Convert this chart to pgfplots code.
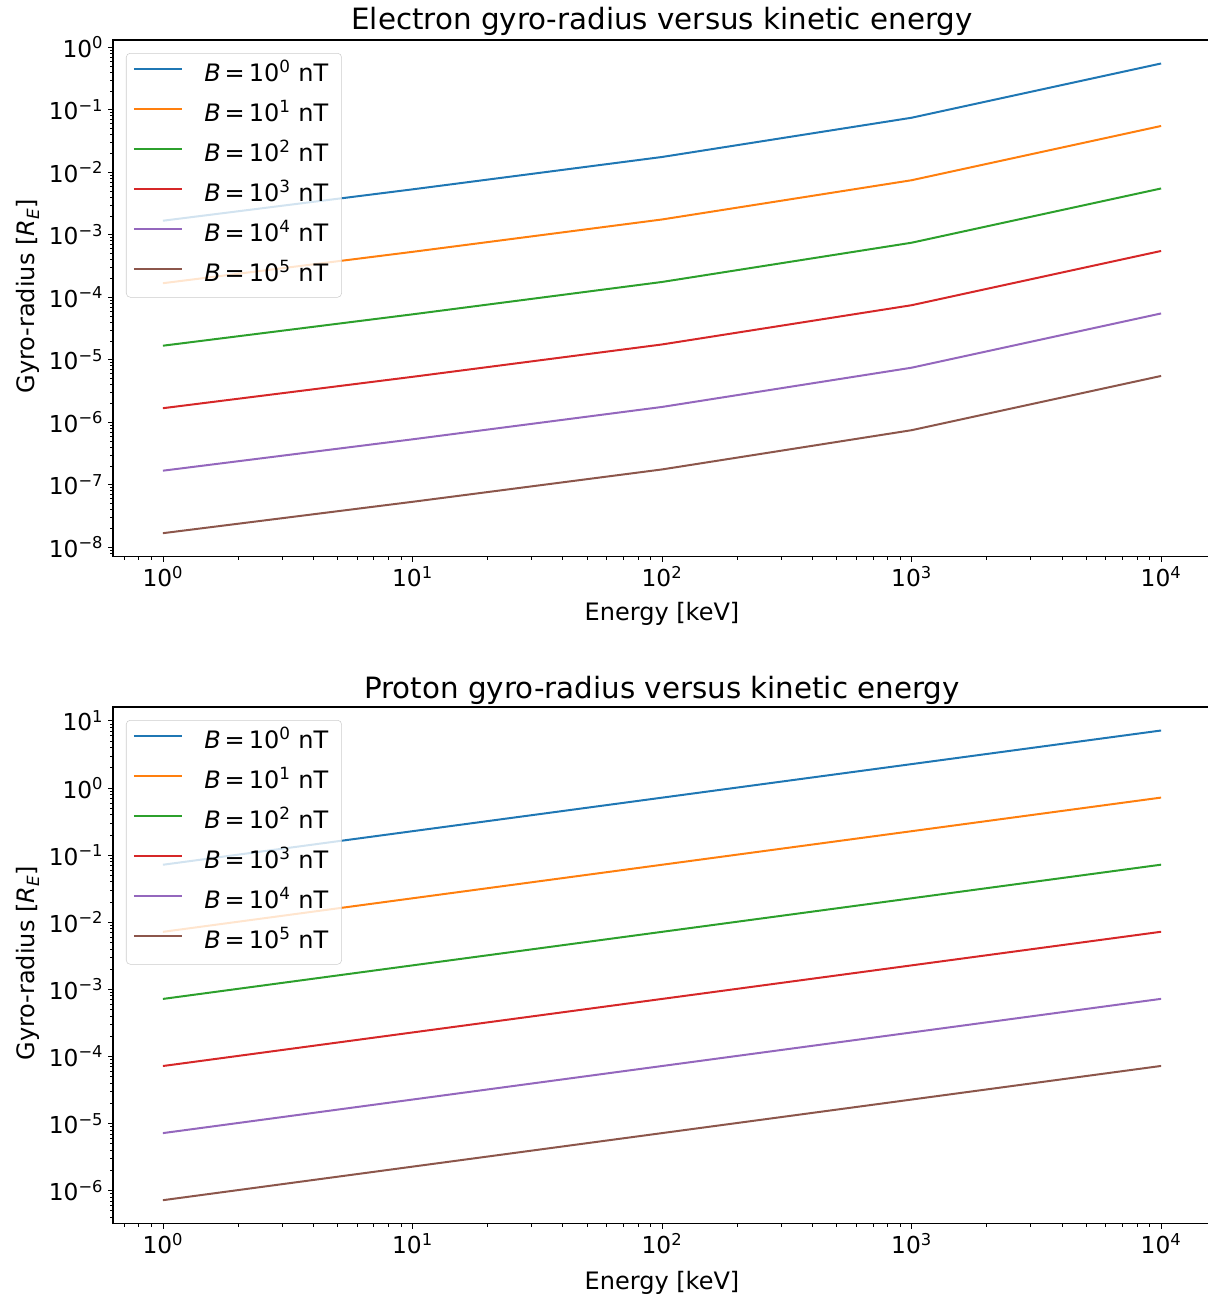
\documentclass[border=0pt]{standalone}
\usepackage{fontspec}
\setmainfont{DejaVu Sans}
\usepackage{pgfplots}
\pgfplotsset{compat=1.18}
\usepackage{pgfplotstable}

\definecolor{c0}{HTML}{1F77B4}
\definecolor{c1}{HTML}{FF7F0E}
\definecolor{c2}{HTML}{2CA02C}
\definecolor{c3}{HTML}{D62728}
\definecolor{c4}{HTML}{9467BD}
\definecolor{c5}{HTML}{8C564B}

\pgfplotstableread{
E b0 b1 b2 b3 b4 b5
1 1.6746e-3 1.6746e-4 1.6746e-5 1.6746e-6 1.6746e-7 1.6746e-8
10 5.3189e-3 5.3189e-4 5.3189e-5 5.3189e-6 5.3189e-7 5.3189e-8
100 1.7538e-2 1.7538e-3 1.7538e-4 1.7538e-5 1.7538e-6 1.7538e-7
1000 7.4451e-2 7.4451e-3 7.4451e-4 7.4451e-5 7.4451e-6 7.4451e-7
10000 5.4967e-1 5.4967e-2 5.4967e-3 5.4967e-4 5.4967e-5 5.4967e-6
}\electron

\pgfplotstableread{
E b0 b1 b2 b3 b4 b5
1 7.1722e-2 7.1722e-3 7.1722e-4 7.1722e-5 7.1722e-6 7.1722e-7
10 2.2681e-1 2.2681e-2 2.2681e-3 2.2681e-4 2.2681e-5 2.2681e-6
100 7.1724e-1 7.1724e-2 7.1724e-3 7.1724e-4 7.1724e-5 7.1724e-6
1000 2.2687 2.2687e-1 2.2687e-2 2.2687e-3 2.2687e-4 2.2687e-5
10000 7.1913 7.1913e-1 7.1913e-2 7.1913e-3 7.1913e-4 7.1913e-5
}\proton

\pgfplotsset{
  legend image code/.code={\draw[#1] (0pt,5pt) -- (36pt,5pt); \path (52pt,5pt);},
  every axis/.append style={
    scale only axis, width=823.5pt, height=387.5pt,
    xmin=0.630957, xmax=15848.93,
    xtick={1,10,100,1000,10000},
    xticklabels={10\textsuperscript{0},10\textsuperscript{1},10\textsuperscript{2},10\textsuperscript{3},10\textsuperscript{4}},
    minor xtick={7e-1,8e-1,9e-1,2,3,4,5,6,7,8,9,20,30,40,50,60,70,80,90,200,300,400,500,600,700,800,900,2000,3000,4000,5000,6000,7000,8000,9000},
    tick align=outside, tick pos=left,
    major tick length=3.75pt, minor tick length=2.25pt,
    every major tick/.append style={line width=0.6pt, black},
    every minor tick/.append style={line width=0.45pt, black},
    axis line style={line width=0.8pt},
    tick label style={font=\fontsize{17.5}{21}\selectfont},
    every axis label/.append style={font=\fontsize{18}{21.6}\selectfont},
    every axis x label/.append style={yshift=-4.5pt},
    every axis y label/.append style={xshift=1.5pt},
    every axis title/.append style={font=\fontsize{22}{26}\selectfont, at={(0.5,1)}, anchor=base, yshift=1.8pt},
    xlabel={Energy [keV]},
    ylabel={Gyro-radius [\textit{R}\textsubscript{\textit{E}}]},
    legend cell align=left,
    legend style={at={(0,1)}, anchor=north west, xshift=9.75pt, yshift=-9.75pt,
      font=\fontsize{18}{21.6}\selectfont, draw=black!20, fill=white,
      fill opacity=0.8, text opacity=1, rounded corners=3pt,
      inner xsep=5pt, inner ysep=8pt, row sep=13pt,
      nodes={inner sep=0pt, text height=13pt, text depth=4pt}},
    every axis plot/.append style={line width=1.5pt},
  }
}

\newcommand\bent[1]{\textit{B}\kern3pt=\kern3pt10\textsuperscript{#1} nT\kern5pt}

\begin{document}
\begin{tikzpicture}
\useasboundingbox (-84.75pt,30pt) rectangle (820.5pt,-943.5pt);
\begin{loglogaxis}[at={(0pt,0pt)}, anchor=north west,
  title={Electron gyro-radius versus kinetic energy},
  ymin=7.047e-9, ymax=1.3058,
  ytick={1e-8,1e-7,1e-6,1e-5,1e-4,1e-3,1e-2,1e-1,1},
  minor ytick={8e-9,9e-9,2e-8,3e-8,4e-8,5e-8,6e-8,7e-8,8e-8,9e-8,2e-7,3e-7,4e-7,5e-7,6e-7,7e-7,8e-7,9e-7,2e-6,3e-6,4e-6,5e-6,6e-6,7e-6,8e-6,9e-6,2e-5,3e-5,4e-5,5e-5,6e-5,7e-5,8e-5,9e-5,2e-4,3e-4,4e-4,5e-4,6e-4,7e-4,8e-4,9e-4,2e-3,3e-3,4e-3,5e-3,6e-3,7e-3,8e-3,9e-3,2e-2,3e-2,4e-2,5e-2,6e-2,7e-2,8e-2,9e-2,2e-1,3e-1,4e-1,5e-1,6e-1,7e-1,8e-1,9e-1},
  yticklabels={10\textsuperscript{−8},10\textsuperscript{−7},10\textsuperscript{−6},10\textsuperscript{−5},10\textsuperscript{−4},10\textsuperscript{−3},10\textsuperscript{−2},10\textsuperscript{−1},10\textsuperscript{0}},
]
\addplot[c0] table[x=E,y=b0] {\electron}; \addlegendentry{\bent{0}}
\addplot[c1] table[x=E,y=b1] {\electron}; \addlegendentry{\bent{1}}
\addplot[c2] table[x=E,y=b2] {\electron}; \addlegendentry{\bent{2}}
\addplot[c3] table[x=E,y=b3] {\electron}; \addlegendentry{\bent{3}}
\addplot[c4] table[x=E,y=b4] {\electron}; \addlegendentry{\bent{4}}
\addplot[c5] table[x=E,y=b5] {\electron}; \addlegendentry{\bent{5}}
\end{loglogaxis}
\begin{loglogaxis}[at={(0pt,-500.25pt)}, anchor=north west,
  title={Proton gyro-radius versus kinetic energy},
  every axis title/.append style={yshift=-1.5pt},
  ymin=3.2024e-7, ymax=16.103,
  ytick={1e-6,1e-5,1e-4,1e-3,1e-2,1e-1,1,10},
  minor ytick={4e-7,5e-7,6e-7,7e-7,8e-7,9e-7,2e-6,3e-6,4e-6,5e-6,6e-6,7e-6,8e-6,9e-6,2e-5,3e-5,4e-5,5e-5,6e-5,7e-5,8e-5,9e-5,2e-4,3e-4,4e-4,5e-4,6e-4,7e-4,8e-4,9e-4,2e-3,3e-3,4e-3,5e-3,6e-3,7e-3,8e-3,9e-3,2e-2,3e-2,4e-2,5e-2,6e-2,7e-2,8e-2,9e-2,2e-1,3e-1,4e-1,5e-1,6e-1,7e-1,8e-1,9e-1,2,3,4,5,6,7,8,9},
  yticklabels={10\textsuperscript{−6},10\textsuperscript{−5},10\textsuperscript{−4},10\textsuperscript{−3},10\textsuperscript{−2},10\textsuperscript{−1},10\textsuperscript{0},10\textsuperscript{1}},
  every axis x label/.append style={yshift=-1.5pt},
]
\addplot[c0] table[x=E,y=b0] {\proton}; \addlegendentry{\bent{0}}
\addplot[c1] table[x=E,y=b1] {\proton}; \addlegendentry{\bent{1}}
\addplot[c2] table[x=E,y=b2] {\proton}; \addlegendentry{\bent{2}}
\addplot[c3] table[x=E,y=b3] {\proton}; \addlegendentry{\bent{3}}
\addplot[c4] table[x=E,y=b4] {\proton}; \addlegendentry{\bent{4}}
\addplot[c5] table[x=E,y=b5] {\proton}; \addlegendentry{\bent{5}}
\end{loglogaxis}
\end{tikzpicture}
\end{document}
